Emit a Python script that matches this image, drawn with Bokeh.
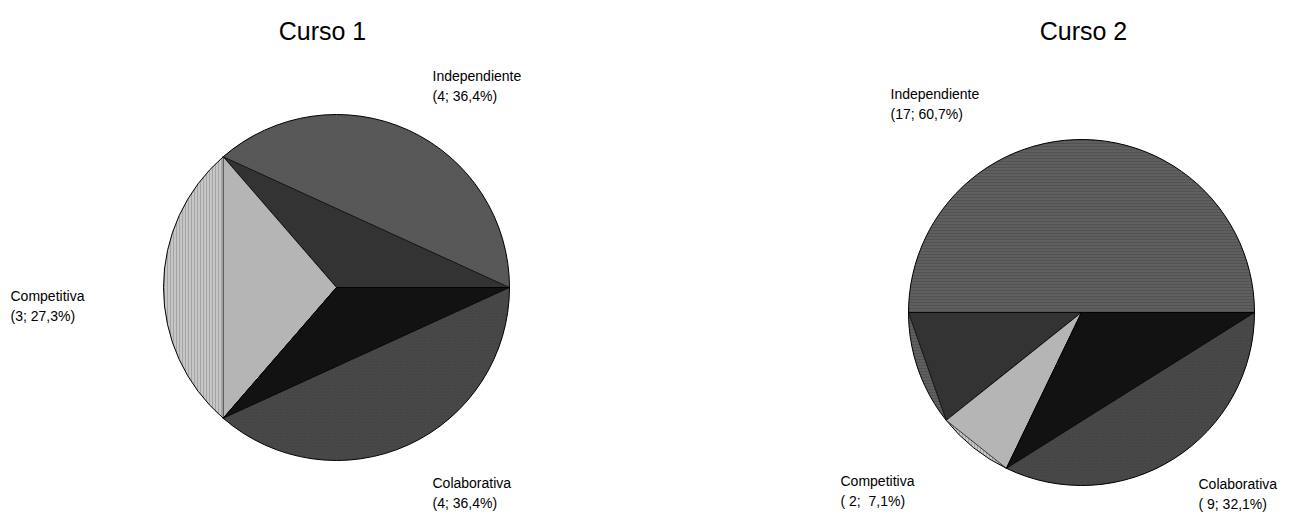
import math
from bokeh.plotting import figure
from bokeh.models import Range1d
from bokeh.embed import file_html
from bokeh.resources import INLINE
from bokeh.core.properties import value

# ---- data ----
categories = ["Independiente", "Competitiva", "Colaborativa"]
curso1_counts = [4, 3, 4]
curso2_counts = [17, 2, 9]
titles = ["Curso 1", "Curso 2"]

# ---- styles ----
segment_colors = ["#5f5f5f", "#c6c6c6", "#4b4b4b"]
triangle_colors = ["#333333", "#b5b5b5", "#121212"]
FONT = "Liberation Sans"

W, H = 1294, 512
p = figure(width=W, height=H, x_range=Range1d(0, W), y_range=Range1d(0, H),
           output_backend="svg", toolbar_location=None, min_border=0)
p.axis.visible = False
p.grid.visible = False
p.outline_line_color = None
p.background_fill_color = "white"


def X(x):  # picture pixel -> data
    return x


def Y(y):
    return H - y


def draw_pie(counts, cx, cy, r, hatches):
    total = sum(counts)
    start = 0.0
    for i, c in enumerate(counts):
        span = 2 * math.pi * c / total
        end = start + span
        p.wedge(x=[cx], y=[cy], radius=r, start_angle=start, end_angle=end,
                fill_color=segment_colors[i], line_color="black", line_width=1,
                hatch_pattern=hatches[i], hatch_color="#222222", hatch_alpha=0.35,
                hatch_scale=3, hatch_weight=0.6)
        # inner triangles, split into chunks of at most 180 degrees
        a0 = start
        while a0 < end - 1e-9:
            a1 = min(a0 + math.pi, end)
            xs = [cx, cx + r * math.cos(a0), cx + r * math.cos(a1)]
            ys = [cy, cy + r * math.sin(a0), cy + r * math.sin(a1)]
            p.patch(xs, ys, fill_color=triangle_colors[i], line_color="black",
                    line_width=0.7)
            a0 = a1
        start = end


def label_lines(counts):
    total = sum(counts)
    w = len(str(max(counts)))
    out = []
    for c in counts:
        pct = f"{100 * c / total:4.1f}".replace(".", ",")
        s = f"({c:>{w}d}; {pct}%)"
        out.append(s.replace(" ", "\u00a0"))
    return out


R = 173
draw_pie(curso1_counts, X(336), Y(287), R, ["\\", "|", "/"])
draw_pie(curso2_counts, X(1081), Y(312), R, ["-", "|", "/"])

# titles
for t, tx in zip(titles, [322, 1083]):
    p.text(x=[X(tx)], y=[Y(30)], text=[t], text_font=value(FONT),
           text_font_size="25px", text_align="center", text_baseline="middle",
           text_color="black")

# slice labels (positions = layout)
pos1 = [(432, 75), (10, 295), (432, 482)]
pos2 = [(890, 93), (840, 480), (1198, 483)]
for counts, pos in [(curso1_counts, pos1), (curso2_counts, pos2)]:
    sub = label_lines(counts)
    for name, s2, (lx, ly) in zip(categories, sub, pos):
        p.text(x=[X(lx)], y=[Y(ly)], text=[name], text_font=value(FONT),
               text_font_size="14px", text_align="left", text_baseline="middle",
               text_color="black")
        p.text(x=[X(lx)], y=[Y(ly + 20)], text=[s2], text_font=value(FONT),
               text_font_size="14px", text_align="left", text_baseline="middle",
               text_color="black")

open("out.html", "w").write(file_html(p, INLINE))
